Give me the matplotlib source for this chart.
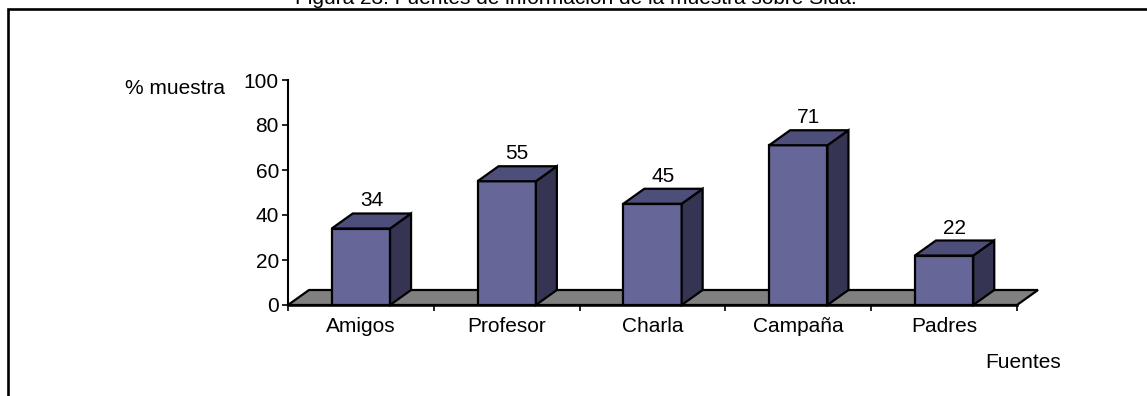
import matplotlib
matplotlib.use("Agg")
import matplotlib.pyplot as plt
from matplotlib.patches import Polygon, Rectangle

# Data
categories = ["Amigos", "Profesor", "Charla", "Campaña", "Padres"]
values = [34, 55, 45, 71, 22]
yticks = [0, 20, 40, 60, 80, 100]

title = "Figura 23: Fuentes de información de la muestra sobre Sida."
ylabel = "% muestra"
xlabel = "Fuentes"

W, H = 1147, 396
DPI = 100
plt.rcParams["font.family"] = ["Liberation Sans", "DejaVu Sans"]
plt.rcParams["font.size"] = 15

fig = plt.figure(figsize=(W / DPI, H / DPI), dpi=DPI)
fig.patch.set_facecolor("white")

# plot area in pixel terms
ax_l, ax_r, ax_b, ax_t = 288, 1017, 305, 80
ax = fig.add_axes([ax_l / W, 1 - ax_b / H, (ax_r - ax_l) / W, (ax_b - ax_t) / H])
ax.set_facecolor("none")
n = len(categories)
ax.set_xlim(0, n)
ax.set_ylim(0, 100)

# 3D depth offset (in data units)
px_per_cat = (ax_r - ax_l) / n
px_per_val = (ax_b - ax_t) / 100
ddx = 21 / px_per_cat
ddy = 15 / px_per_val

front_c = "#666699"
top_c = "#4e4e7a"
side_c = "#353553"
floor_c = "#808080"
lw = 1.6

# floor
floor = Polygon([(0, 0), (n, 0), (n + ddx, ddy), (ddx, ddy)], closed=True,
                facecolor=floor_c, edgecolor="black", lw=lw, clip_on=False, zorder=1)
ax.add_patch(floor)

bw = 0.4
for i, v in enumerate(values):
    x0 = i + 0.5 - bw / 2
    x1 = i + 0.5 + bw / 2
    ax.bar(i + 0.5, v, width=bw, color=front_c, edgecolor="black", lw=lw,
           zorder=3, clip_on=False)
    top = Polygon([(x0, v), (x1, v), (x1 + ddx, v + ddy), (x0 + ddx, v + ddy)],
                  closed=True, facecolor=top_c, edgecolor="black", lw=lw,
                  clip_on=False, zorder=3, joinstyle="miter")
    side = Polygon([(x1, 0), (x1 + ddx, ddy), (x1 + ddx, v + ddy), (x1, v)],
                   closed=True, facecolor=side_c, edgecolor="black", lw=lw,
                   clip_on=False, zorder=3, joinstyle="miter")
    ax.add_patch(side)
    ax.add_patch(top)
    ax.annotate(str(v), xy=(i + 0.5 + ddx / 2, v + ddy), xytext=(0, 7),
                textcoords="offset pixels", ha="center", va="baseline",
                annotation_clip=False)

# axes styling
for s in ["top", "right"]:
    ax.spines[s].set_visible(False)
ax.spines["left"].set_linewidth(1.5)
ax.spines["bottom"].set_linewidth(1.8)
ax.spines["bottom"].set_zorder(4)
ax.set_yticks(yticks)
ax.tick_params(axis="y", direction="out", length=4, width=1.2, pad=2.5)
ax.set_xticks(range(n + 1))
ax.set_xticklabels([])
ax.set_xticks([i + 0.5 for i in range(n)], minor=True)
ax.set_xticklabels(categories, minor=True)
ax.tick_params(axis="x", which="major", direction="out", length=4, width=1.2)
ax.tick_params(axis="x", which="minor", length=0, pad=9)

# labels
fig.text(576 / W, 1 - 4 / H, title, ha="center", va="baseline")
fig.text(175 / W, 1 - 88 / H, ylabel, ha="center", va="center")
fig.text(1023 / W, 1 - 362 / H, xlabel, ha="center", va="center")

# outer frame (extends past right and bottom edges)
frame = Rectangle((8 / W, -0.2), 1.2, 1 - 9 / H + 0.2, transform=fig.transFigure,
                  fill=False, edgecolor="black", lw=1.9)
fig.add_artist(frame)

fig.savefig("out.png", dpi=DPI, facecolor="white")
